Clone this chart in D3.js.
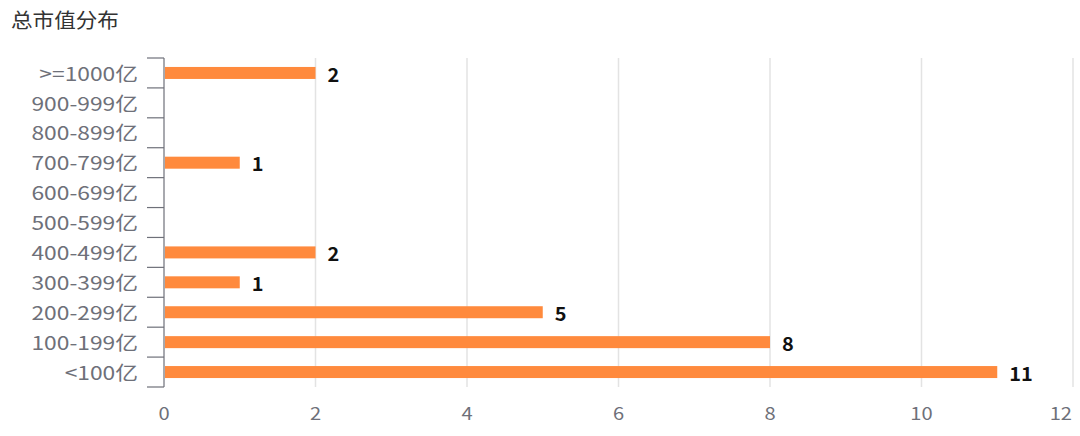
<!DOCTYPE html>
<html>
<head>
<meta charset="utf-8">
<script src="https://cdn.jsdelivr.net/npm/d3@7"></script>
<style>
  body { margin: 0; background: #fff; }
  svg { font-family: "Noto Sans CJK SC", "Noto Sans", sans-serif; }
</style>
</head>
<body>
<svg id="chart" width="1080" height="436"></svg>
<script>
// categories from top to bottom, as drawn
const categories = [">=1000亿", "900-999亿", "800-899亿", "700-799亿", "600-699亿",
  "500-599亿", "400-499亿", "300-399亿", "200-299亿", "100-199亿", "<100亿"];
const counts = [2, 0, 0, 1, 0, 0, 2, 1, 5, 8, 11];
const xTicks = [0, 2, 4, 6, 8, 10, 12];

const margin = {top: 58, right: 7, bottom: 49, left: 164};
const width = 1080 - margin.left - margin.right;
const height = 436 - margin.top - margin.bottom;

// the reference glyphs are drawn wider than usual, so text is stretched a bit
const stretch = (sx) => (d, i, n) => {
  const el = d3.select(n[i]);
  return `translate(${el.attr("data-x")},${el.attr("data-y")}) scale(${sx},1)`;
};

const svg = d3.select("#chart");

svg.append("text")
  .attr("transform", "translate(11,28) scale(1.08,1)")
  .attr("fill", "#333")
  .attr("font-size", 20)
  .text("总市值分布");

const g = svg.append("g").attr("transform", `translate(${margin.left},${margin.top})`);

const x = d3.scaleLinear().domain([0, 12]).range([0, width]);
const y = d3.scaleBand().domain(categories).range([0, height]);

// vertical grid lines
g.selectAll("line.grid")
  .data(xTicks.slice(1))
  .enter().append("line")
  .attr("class", "grid")
  .attr("x1", d => x(d)).attr("x2", d => x(d))
  .attr("y1", 0).attr("y2", height)
  .attr("stroke", "#e3e3e3")
  .attr("stroke-width", 1.5);

// x axis labels (no line); the last one is pulled inside the chart
g.selectAll("text.xlab")
  .data(xTicks)
  .enter().append("text")
  .attr("class", "xlab")
  .attr("data-x", (d, i) => i === xTicks.length - 1 ? x(d) - 1 : x(d))
  .attr("data-y", height + 33)
  .attr("transform", stretch(1.15))
  .attr("text-anchor", (d, i) => i === xTicks.length - 1 ? "end" : "middle")
  .attr("fill", "#6e7079")
  .attr("font-size", 17.5)
  .text(d => d);

// y axis line and ticks on band boundaries
const yAxis = g.append("g");
yAxis.append("line")
  .attr("x1", 0).attr("x2", 0)
  .attr("y1", 0).attr("y2", height)
  .attr("stroke", "#6e7079").attr("stroke-width", 1.2);

const bounds = categories.map(c => y(c)).concat([height]);
yAxis.selectAll("line.tick")
  .data(bounds)
  .enter().append("line")
  .attr("class", "tick")
  .attr("x1", -17).attr("x2", 0)
  .attr("y1", d => d).attr("y2", d => d)
  .attr("stroke", "#6e7079").attr("stroke-width", 1.2);

yAxis.selectAll("text.ylab")
  .data(categories)
  .enter().append("text")
  .attr("class", "ylab")
  .attr("data-x", -26)
  .attr("data-y", d => y(d) + y.bandwidth() / 2 + 1)
  .attr("transform", stretch(1.2))
  .attr("dy", "0.35em")
  .attr("text-anchor", "end")
  .attr("fill", "#6e7079")
  .attr("font-size", 19)
  .text(d => d);

// bars
const barH = 12;
const data = categories.map((c, i) => ({cat: c, v: counts[i]}));
const shown = data.filter(d => d.v > 0);

g.selectAll("rect.bar")
  .data(shown)
  .enter().append("rect")
  .attr("class", "bar")
  .attr("x", 1)
  .attr("y", d => y(d.cat) + y.bandwidth() / 2 - barH / 2)
  .attr("width", d => x(d.v) - 1)
  .attr("height", barH)
  .attr("fill", "#ff8a3d");

g.selectAll("text.val")
  .data(shown)
  .enter().append("text")
  .attr("class", "val")
  .attr("data-x", d => x(d.v) + 12)
  .attr("data-y", d => y(d.cat) + y.bandwidth() / 2 + 2)
  .attr("transform", stretch(1.05))
  .attr("dy", "0.35em")
  .attr("fill", "#111")
  .attr("font-size", 19)
  .attr("font-weight", "bold")
  .text(d => d.v);
</script>
</body>
</html>
